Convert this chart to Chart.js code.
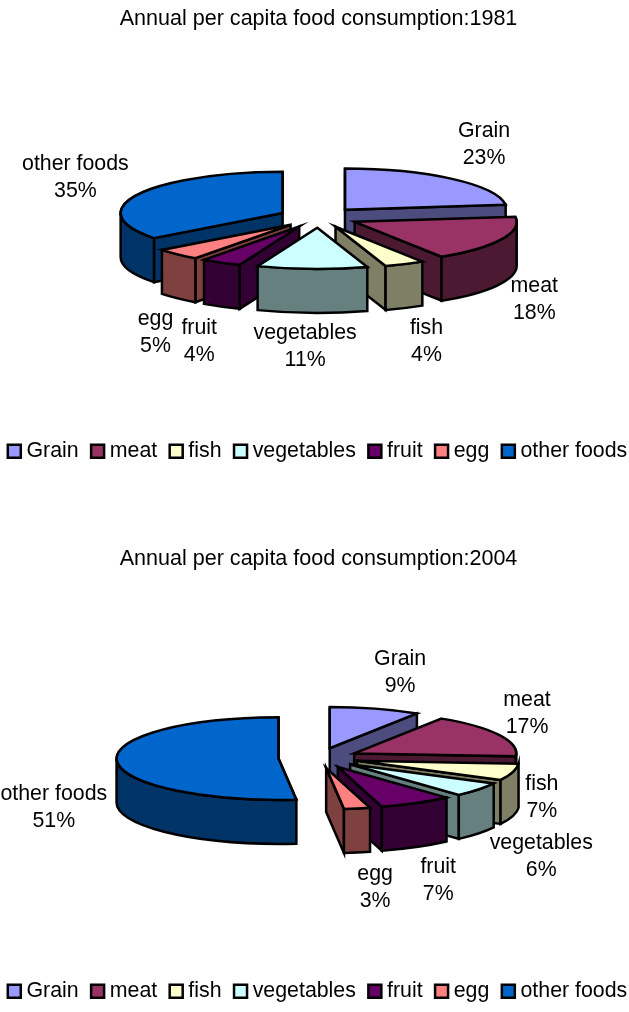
<!DOCTYPE html>
<html>
<head>
<meta charset="utf-8">
<script src="https://cdn.jsdelivr.net/npm/chart.js@4"></script>
<style>
  html, body { margin: 0; padding: 0; background: #fff; overflow: hidden; width: 629px; height: 1012px; }
  canvas { position: absolute; left: -26px; }
  #chart1981 { top: 0; }
  #chart2004 { top: 540px; }
</style>
</head>
<body>
<canvas id="chart1981" width="689" height="472"></canvas>
<canvas id="chart2004" width="689" height="472"></canvas>
<script>
const categories = ["Grain", "meat", "fish", "vegetables", "fruit", "egg", "other foods"];
const values1981 = [23, 18, 4, 11, 4, 4.6, 35.4];
const values2004 = [9, 17, 6.5, 5.6, 7.3, 2.6, 51.49];
const colors = ["#9999FF", "#993366", "#FFFFCC", "#CCFFFF", "#660066", "#FF8080", "#0066CC"];

// where each label block sits, relative to the outer point of its slice
const labelShift1981 = [[32, -34], [33, 60], [22, 77], [-7, 78], [-22, 79], [-22, 78], [-62, -17]];
const labelShift2004 = [[25, -36], [28, -21], [29, 26], [63, 67], [22, 78], [18, 79], [-63, 47]];

const FONT = '"Liberation Sans", Arial, sans-serif';
const FONT_SIZE = 21.33;
const RADIUS = 162;
const EXPLODE = 40;
const SQUASH = 0.255;
const DEPTH = 44;
const LINE = 2.5;

function darken(hex) {
  const n = parseInt(hex.slice(1), 16);
  return `rgb(${(n >> 16) >> 1},${((n >> 8) & 255) >> 1},${(n & 255) >> 1})`;
}

function paint(ctx, fill) {
  ctx.fillStyle = fill;
  ctx.fill();
  ctx.stroke();
}

// chart.js has no 3d pie, so the arcs get squashed and get walls here
const pie3d = {
  id: "pie3d",
  afterLayout(chart) {
    // the legend row sits a bit right of the title in the original
    chart.legend.left += 1.5;
    chart.legend.right += 1.5;
  },
  beforeDatasetDraw(chart) {
    const ctx = chart.ctx;
    const arcs = chart.getDatasetMeta(0).data;
    const lift = DEPTH / 2;
    const order = arcs.map((arc, i) => i).sort((a, b) => {
      const midA = (arcs[a].startAngle + arcs[a].endAngle) / 2;
      const midB = (arcs[b].startAngle + arcs[b].endAngle) / 2;
      return Math.sin(midA) - Math.sin(midB);
    });

    ctx.save();
    ctx.lineWidth = LINE;
    ctx.strokeStyle = "#000";
    ctx.lineJoin = "miter";
    order.forEach((i) => {
      const arc = arcs[i];
      const a0 = arc.startAngle;
      const a1 = arc.endAngle;
      const mid = (a0 + a1) / 2;
      const r = arc.outerRadius;
      const ry = r * SQUASH;
      const cx = arc.x + EXPLODE * Math.cos(mid);
      const cy = arc.y - lift + EXPLODE * Math.sin(mid) * SQUASH;
      const wall = darken(colors[i]);

      // cut faces, only the ones turned to the viewer
      [[a0, a0 - Math.PI / 2], [a1, a1 + Math.PI / 2]].forEach(([a, normal]) => {
        if (Math.sin(normal) <= 0) return;
        const px = cx + r * Math.cos(a);
        const py = cy + ry * Math.sin(a);
        ctx.beginPath();
        ctx.moveTo(cx, cy);
        ctx.lineTo(px, py);
        ctx.lineTo(px, py + DEPTH);
        ctx.lineTo(cx, cy + DEPTH);
        ctx.closePath();
        paint(ctx, wall);
      });

      // outer wall, front half only
      const from = Math.max(a0, 0);
      const to = Math.min(a1, Math.PI);
      if (to > from) {
        ctx.beginPath();
        ctx.ellipse(cx, cy, r, ry, 0, from, to);
        ctx.ellipse(cx, cy + DEPTH, r, ry, 0, to, from, true);
        ctx.closePath();
        paint(ctx, wall);
      }

      // top face comes from the element itself
      ctx.save();
      ctx.translate(cx, cy);
      ctx.scale(1, SQUASH);
      ctx.translate(-arc.x, -arc.y);
      arc.draw(ctx);
      ctx.restore();

      ctx.beginPath();
      ctx.moveTo(cx, cy);
      ctx.ellipse(cx, cy, r, ry, 0, a0, a1);
      ctx.closePath();
      ctx.stroke();
    });
    ctx.restore();
    return false;
  },
  afterDatasetsDraw(chart, args, opts) {
    const ctx = chart.ctx;
    const values = chart.data.datasets[0].data;
    const lift = DEPTH / 2;
    ctx.save();
    ctx.font = `${FONT_SIZE}px ${FONT}`;
    ctx.fillStyle = "#000";
    ctx.textAlign = "center";
    ctx.textBaseline = "middle";
    chart.getDatasetMeta(0).data.forEach((arc, i) => {
      const mid = (arc.startAngle + arc.endAngle) / 2;
      const reach = arc.outerRadius + EXPLODE;
      const x = arc.x + reach * Math.cos(mid) + opts.shift[i][0];
      const y = arc.y - lift + reach * Math.sin(mid) * SQUASH + opts.shift[i][1];
      ctx.fillText(chart.data.labels[i], x, y - 13.5);
      ctx.fillText(`${Math.round(values[i])}%`, x, y + 13.5);
    });
    ctx.restore();
  },
};

function makePie(id, year, values, shift, titleGap) {
  return new Chart(document.getElementById(id), {
    type: "pie",
    data: {
      labels: categories,
      datasets: [{ data: values, backgroundColor: colors, borderColor: "#000", borderWidth: LINE }],
    },
    plugins: [pie3d],
    options: {
      responsive: false,
      animation: false,
      radius: RADIUS,
      plugins: {
        tooltip: { enabled: false },
        pie3d: { shift: shift },
        title: {
          display: true,
          text: `Annual per capita food consumption:${year}`,
          color: "#000",
          font: { family: FONT, size: 21.55, weight: "normal" },
          padding: { top: 6, bottom: titleGap },
        },
        legend: {
          position: "bottom",
          labels: {
            color: "#000",
            font: { family: FONT, size: FONT_SIZE },
            usePointStyle: true,
            pointStyle: "rect",
            boxWidth: 3,
            boxHeight: 13,
            padding: 17.5,
          },
        },
      },
    },
  });
}

makePie("chart1981", "1981", values1981, labelShift1981, 24);
makePie("chart2004", "2004", values2004, labelShift2004, 25);
</script>
</body>
</html>
